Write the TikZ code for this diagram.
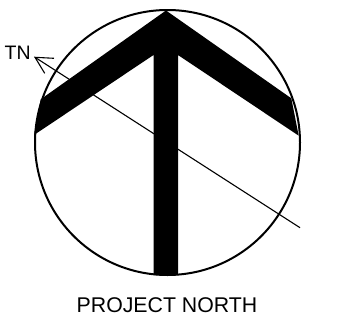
\documentclass[tikz,border=0pt]{standalone}
\usepackage{fontspec}
\setmainfont{Liberation Sans}
\tikzset{
  ring/.style={draw=black,line width=2pt,fill=none},
  northmark/.style={fill=black,draw=none},
  bearing/.style={draw=black,line width=1.1pt},
  label/.style={inner sep=0pt,anchor=base,font=\fontsize{19.5}{22}\selectfont,text=black},
  biglabel/.style={label,font=\fontsize{21.3}{24}\selectfont}
}
\begin{document}
\begin{tikzpicture}[x=1pt,y=-1pt]
\useasboundingbox (0,0) rectangle (345,324);
\draw[ring] (167.5,142.5) circle[radius=132.5];
\fill[northmark] (166,10.5) -- (291.3,98.3) -- (298.7,135.7) -- (178,55) -- (178,275) -- (153.5,275) -- (153.5,55) -- (34,135) -- (40.7,99.3) -- cycle;
\coordinate (tip) at (35,57.3);
\coordinate (tail) at (300,227.7);
\coordinate (barbA) at (54,58.3);
\coordinate (barbB) at (44.7,73.3);
\draw[bearing] (tail) -- (tip);
\draw[bearing] (barbA) -- (tip) -- (barbB);
\node[label] (tn) at (17.7,59.7) {TN};
\node[biglabel] (pn) at (167,312) {PROJECT NORTH};
\end{tikzpicture}
\end{document}
